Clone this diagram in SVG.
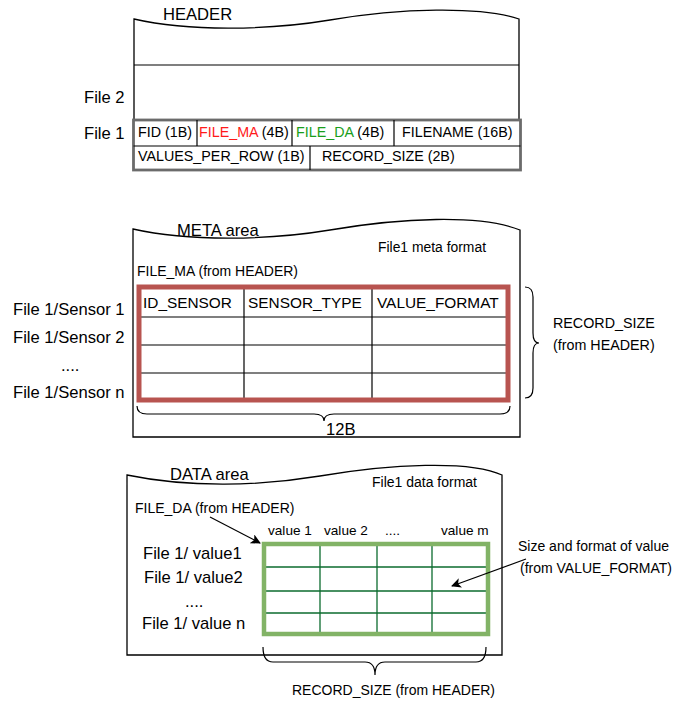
<svg xmlns="http://www.w3.org/2000/svg" width="682" height="702" viewBox="0 0 682 702">
<defs>
<style>
text{font-family:"Liberation Sans",Arial,sans-serif;fill:#000}
.t16{font-size:16.6px}
.t15{font-size:15.4px}
.t14{font-size:14.3px}
.t13{font-size:14px}
.tv{font-size:13.6px}
.box{fill:#fff;stroke:#000;stroke-width:1.3}
.thin{stroke:#000;stroke-width:1.2;fill:none}
.gline{stroke:#0b6b2e;stroke-width:1.3;fill:none}
.brace{stroke:#000;stroke-width:1.2;fill:none}
</style>
<marker id="arr" markerWidth="10" markerHeight="10" refX="9" refY="5" orient="auto" markerUnits="userSpaceOnUse">
<path d="M0,0 L10,5 L0,10 L2.5,5 Z" fill="#000"/>
</marker>
</defs>
<rect width="682" height="702" fill="#fff"/>

<g id="header">
<path class="box" d="M134,19 C190,32 270,30 330,20 C400,8 480,6 519,19 L519,120 L134,120 Z"/>
<line class="thin" x1="134" y1="65" x2="519" y2="65"/>
<text class="t16" x="163" y="20">HEADER</text>
<text class="t16" x="84" y="103">File 2</text>
<text class="t16" x="84" y="139">File 1</text>
</g>

<g id="file1-record">
<rect x="133.5" y="120" width="387" height="50" fill="#fff" stroke="#6b6b6b" stroke-width="2.8"/>
<line class="thin" x1="133.5" y1="146" x2="520.5" y2="146"/>
<line class="thin" x1="197" y1="120" x2="197" y2="146"/>
<line class="thin" x1="292" y1="120" x2="292" y2="146"/>
<line class="thin" x1="394" y1="120" x2="394" y2="146"/>
<line class="thin" x1="310" y1="146" x2="310" y2="170"/>
<text class="t14" x="138" y="137">FID (1B)</text>
<text class="t14" x="199" y="137"><tspan fill="#ff1a1a">FILE_MA</tspan> (4B)</text>
<text class="t14" x="296" y="137"><tspan fill="#1a9e1a">FILE_DA</tspan> (4B)</text>
<text class="t14" x="402" y="137">FILENAME (16B)</text>
<text class="t14" x="138" y="161">VALUES_PER_ROW (1B)</text>
<text class="t14" x="322" y="161">RECORD_SIZE (2B)</text>
</g>

<g id="meta-area">
<path class="box" d="M133,229 C190,242 270,240 330,230 C400,218 480,214 520,230 L520,437 L133,437 Z"/>
<text class="t16" x="177" y="236">META area</text>
<text class="t13" x="378" y="252" textLength="108" lengthAdjust="spacingAndGlyphs">File1 meta format</text>
<text class="t13" x="137" y="276">FILE_MA (from HEADER)</text>
</g>

<g id="meta-table">
<line class="thin" x1="139" y1="317" x2="508" y2="317"/>
<line class="thin" x1="139" y1="345" x2="508" y2="345"/>
<line class="thin" x1="139" y1="373" x2="508" y2="373"/>
<line class="thin" x1="244" y1="287" x2="244" y2="400"/>
<line class="thin" x1="372" y1="287" x2="372" y2="400"/>
<rect x="139" y="287" width="369" height="113" fill="none" stroke="#b85450" stroke-width="5"/>
<text class="t15" x="143" y="308">ID_SENSOR</text>
<text class="t15" x="248" y="308">SENSOR_TYPE</text>
<text class="t15" x="377" y="308">VALUE_FORMAT</text>
</g>

<g id="meta-rows">
<text class="t16" x="13" y="315">File 1/Sensor 1</text>
<text class="t16" x="13" y="343">File 1/Sensor 2</text>
<text class="t16" x="61" y="371">....</text>
<text class="t16" x="13" y="398">File 1/Sensor n</text>
</g>

<g id="meta-braces">
<path class="brace" d="M137,406 Q137,414 147,414 L314,414 Q324,414 324,421 Q324,414 334,414 L500,414 Q510,414 510,406"/>
<text class="t16" x="326" y="435">12B</text>
<path class="brace" d="M525,287 Q533,287 533,297 L533,333 Q533,343 539,343 Q533,343 533,353 L533,388 Q533,398 525,398"/>
<text class="t14" x="553" y="328">RECORD_SIZE</text>
<text class="t14" x="553" y="350">(from HEADER)</text>
</g>

<g id="data-area">
<path class="box" d="M127,475 C190,488 260,486 320,476 C390,464 470,460 502,475 L502,655 L127,655 Z"/>
<text class="t16" x="170" y="480">DATA area</text>
<text class="t13" x="372" y="487" textLength="105" lengthAdjust="spacingAndGlyphs">File1 data format</text>
<text class="t13" x="135" y="513">FILE_DA (from HEADER)</text>
<text class="tv" x="268" y="535">value 1</text>
<text class="tv" x="324" y="535">value 2</text>
<text class="tv" x="385" y="535">....</text>
<text class="tv" x="441" y="535">value m</text>
</g>

<g id="data-table">
<line class="gline" x1="264" y1="567" x2="488" y2="567"/>
<line class="gline" x1="264" y1="591" x2="488" y2="591"/>
<line class="gline" x1="264" y1="613" x2="488" y2="613"/>
<line class="gline" x1="320" y1="544" x2="320" y2="634"/>
<line class="gline" x1="377" y1="544" x2="377" y2="634"/>
<line class="gline" x1="432" y1="544" x2="432" y2="634"/>
<rect x="264" y="544" width="224" height="90" fill="none" stroke="#82b366" stroke-width="4.5"/>
</g>

<g id="data-rows">
<text class="t16" x="143" y="559">File 1/ value1</text>
<text class="t16" x="144" y="583">File 1/ value2</text>
<text class="t16" x="185" y="607">....</text>
<text class="t16" x="142" y="629">File 1/ value n</text>
</g>

<g id="value-note">
<text class="t13" x="518" y="551">Size and format of value</text>
<text class="t13" x="520" y="573">(from VALUE_FORMAT)</text>
</g>

<g id="data-brace">
<path class="brace" d="M263,647 Q263,662 273,662 L365,662 Q375,662 375,675 Q375,662 385,662 L476,662 Q486,662 486,647"/>
<text class="t13" x="292" y="695">RECORD_SIZE (from HEADER)</text>
</g>

<g id="connectors">
<line class="thin" x1="210" y1="517" x2="260" y2="543" marker-end="url(#arr)"/>
<line class="thin" x1="526" y1="559" x2="452" y2="586" marker-end="url(#arr)"/>
</g>
</svg>
